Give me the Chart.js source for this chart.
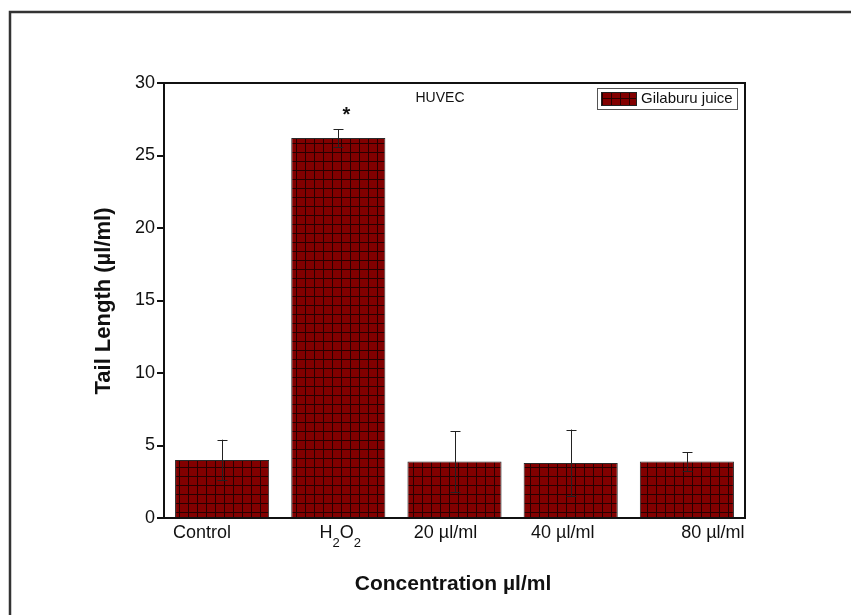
<!DOCTYPE html>
<html>
<head>
<meta charset="utf-8">
<script src="https://cdn.jsdelivr.net/npm/chart.js@4"></script>
<style>
  html, body { margin: 0; padding: 0; background: #fff; }
  #wrap { width: 851px; height: 615px; position: relative; }
</style>
</head>
<body>
<div id="wrap"><canvas id="chart"></canvas></div>
<script>
// Comet assay, HUVEC - tail length per treatment
const categories = ['Control', 'H2O2', '20 µl/ml', '40 µl/ml', '80 µl/ml'];
const tailLength = [4.0, 26.2, 3.9, 3.8, 3.9];
const tailError = [1.4, 0.6, 2.1, 2.3, 0.65];
const yTicks = [0, 5, 10, 15, 20, 25, 30];
const seriesName = 'Gilaburu juice';
const panelTitle = 'HUVEC';
const xTitle = 'Concentration µl/ml';
const yTitle = 'Tail Length (µl/ml)';
const FONT = '"Liberation Sans", Arial, sans-serif';

// red fill with a dark grid, like the original hatch
function makeGridPattern(ctx) {
    const tile = document.createElement('canvas');
    tile.width = 9;
    tile.height = 9;
    const t = tile.getContext('2d');
    t.fillStyle = '#820000';
    t.fillRect(0, 0, 9, 9);
    t.fillStyle = 'rgba(0,0,0,0.7)';
    t.fillRect(8, 0, 1, 9);
    t.fillRect(0, 8, 8, 1);
    return ctx.createPattern(tile, 'repeat');
}

const canvas = document.getElementById('chart');
const ctx = canvas.getContext('2d');
const gridFill = makeGridPattern(ctx);

// error bars, asterisk, frame, legend, titles
const extras = {
    id: 'extras',
    afterDatasetsDraw(chart) {
        const c = chart.ctx;
        const y = chart.scales.y;
        const meta = chart.getDatasetMeta(0);
        c.save();
        c.strokeStyle = '#222';
        c.lineWidth = 1;
        meta.data.forEach((bar, i) => {
            const x = Math.round(bar.x) + 0.5;
            const top = y.getPixelForValue(tailLength[i] + tailError[i]);
            const bot = y.getPixelForValue(tailLength[i] - tailError[i]);
            c.beginPath();
            c.moveTo(x, top); c.lineTo(x, bot);
            c.moveTo(x - 5, Math.round(top) + 0.5); c.lineTo(x + 5, Math.round(top) + 0.5);
            c.moveTo(x - 5, Math.round(bot) + 0.5); c.lineTo(x + 5, Math.round(bot) + 0.5);
            c.stroke();
        });
        // significance mark over H2O2
        const hb = meta.data[1];
        c.fillStyle = '#111';
        c.font = 'bold 20px ' + FONT;
        c.textAlign = 'center';
        c.textBaseline = 'middle';
        c.fillText('*', hb.x + 8, y.getPixelForValue(tailLength[1] + tailError[1]) - 14);
        c.restore();
    },
    afterDraw(chart) {
        const c = chart.ctx;
        const a = chart.chartArea;
        const x = chart.scales.x;
        c.save();
        // outer frame (runs off the page on right and bottom)
        c.strokeStyle = '#333';
        c.lineWidth = 2.5;
        c.strokeRect(10, 12, 900, 700);

        // top and right sides of plot box
        c.strokeStyle = '#111';
        c.lineWidth = 2;
        c.beginPath();
        c.moveTo(a.left, a.top); c.lineTo(a.right, a.top); c.lineTo(a.right, a.bottom);
        c.stroke();

        // panel title
        c.fillStyle = '#111';
        c.font = '14px ' + FONT;
        c.textAlign = 'center';
        c.textBaseline = 'middle';
        c.fillText(panelTitle, 440, 98);

        // legend
        c.fillStyle = '#fff';
        c.fillRect(597, 88, 140, 21);
        c.strokeStyle = '#555';
        c.lineWidth = 1;
        c.strokeRect(597.5, 88.5, 140, 21);
        c.fillStyle = gridFill;
        c.fillRect(601, 92, 35, 13);
        c.strokeStyle = '#222';
        c.strokeRect(601.5, 92.5, 35, 13);
        c.fillStyle = '#111';
        c.textAlign = 'left';
        c.font = '15px ' + FONT;
        c.fillText(seriesName, 641, 99);

        // category labels, placed a little off-centre as in the original
        const nudge = [-20, 2, -9, -8, 26];
        const ty = 533;
        const big = '18px ' + FONT;
        const sub = '13px ' + FONT;
        c.textBaseline = 'middle';
        categories.forEach((label, i) => {
            const cx = x.getPixelForTick(i) + nudge[i];
            if (label !== 'H2O2') {
                c.font = big;
                c.textAlign = 'center';
                c.fillText(label, cx, ty);
                return;
            }
            // H2O2 with subscripts
            c.textAlign = 'left';
            let w = 0;
            c.font = big; w += c.measureText('H').width + c.measureText('O').width;
            c.font = sub; w += 2 * c.measureText('2').width;
            let px = cx - w / 2;
            [['H', false], ['2', true], ['O', false], ['2', true]].forEach(([s, isSub]) => {
                c.font = isSub ? sub : big;
                c.fillText(s, px, isSub ? ty + 10 : ty);
                px += c.measureText(s).width;
            });
        });

        // axis titles
        c.textAlign = 'center';
        c.font = 'bold 21px ' + FONT;
        c.fillText(xTitle, 453, 584);
        c.font = 'bold 22px ' + FONT;
        c.translate(104, 301);
        c.rotate(-Math.PI / 2);
        c.fillText(yTitle, 0, 0);
        c.restore();
    }
};

new Chart(ctx, {
    type: 'bar',
    data: {
        labels: categories,
        datasets: [{
            label: seriesName,
            data: tailLength,
            backgroundColor: gridFill,
            borderColor: '#2a2a2a',
            borderWidth: 1,
            barPercentage: 0.81,
            categoryPercentage: 1.0
        }]
    },
    options: {
        responsive: true,
        maintainAspectRatio: false,
        animation: false,
        layout: { padding: { top: 83, right: 106, left: 0, bottom: 0 } },
        plugins: {
            legend: { display: false },
            tooltip: { enabled: false }
        },
        scales: {
            x: {
                afterFit: s => { s.height = 97; },
                grid: { display: false },
                border: { display: true, color: '#111', width: 2 },
                ticks: { display: false }
            },
            y: {
                min: 0,
                max: 30,
                afterFit: s => { s.width = 164; },
                afterBuildTicks: s => { s.ticks = yTicks.map(v => ({ value: v })); },
                grid: { drawOnChartArea: false, drawTicks: true, tickLength: 7, color: '#111', lineWidth: 2 },
                border: { display: true, color: '#111', width: 2 },
                ticks: {
                    color: '#111',
                    font: { family: FONT, size: 18 },
                    padding: 2
                }
            }
        }
    },
    plugins: [extras]
});
</script>
</body>
</html>
